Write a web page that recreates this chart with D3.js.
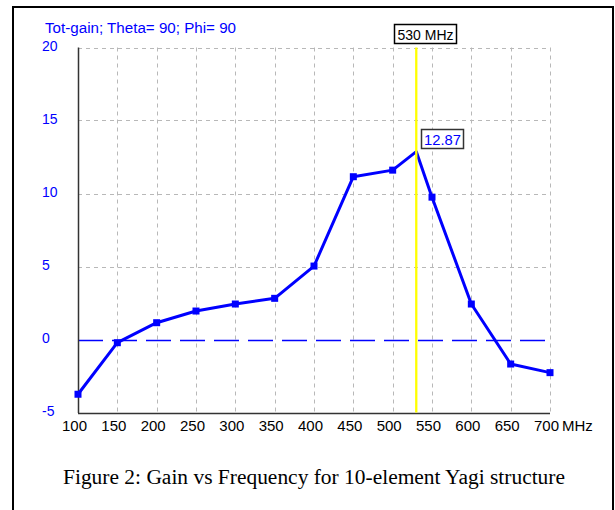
<!DOCTYPE html>
<html>
<head>
<meta charset="utf-8">
<script src="https://cdn.jsdelivr.net/npm/d3@7"></script>
<style>
  body { margin: 0; background: #fff; }
  svg { display: block; }
</style>
</head>
<body>
<svg width="615" height="510"></svg>
<script>
// sampled points (MHz / dB)
var frequencies = [100, 150, 200, 250, 300, 350, 400, 450, 500, 550, 600, 650, 700];
var gains = [-3.75, -0.22, 1.15, 1.95, 2.43, 2.82, 5.03, 11.15, 11.6, 9.75, 2.43, -1.68, -2.27];
// cursor read-out
var cursorFreq = 530;
var cursorGain = 12.87;
var xTicks = [100, 150, 200, 250, 300, 350, 400, 450, 500, 550, 600, 650, 700];
var yTicks = [-5, 0, 5, 10, 15, 20];
var titleText = 'Tot-gain; Theta= 90; Phi= 90';
var captionText = 'Figure 2: Gain vs Frequency for 10-element Yagi structure';

var svg = d3.select('svg');
var sans = 'Liberation Sans, Arial, sans-serif';

var x = d3.scaleLinear().domain([100, 700]).range([78, 550]);
var y = d3.scaleLinear().domain([-5, 20]).range([412.5, 47.5]);

// outer frame
svg.append('rect')
    .attr('x', 13).attr('y', 7)
    .attr('width', 600).attr('height', 520)
    .style('fill', 'none')
    .style('stroke', '#000')
    .style('stroke-width', 2);

// grid
svg.selectAll('.vgrid')
    .data(xTicks.slice(1))
    .enter().append('line')
    .attr('x1', function(d) { return Math.round(x(d)) + 0.5; })
    .attr('x2', function(d) { return Math.round(x(d)) + 0.5; })
    .attr('y1', y(20)).attr('y2', y(-5))
    .style('stroke', '#b8b8b8')
    .style('stroke-dasharray', '4,4');

svg.selectAll('.hgrid')
    .data(yTicks.filter(function(d) { return d > 0; }))
    .enter().append('line')
    .attr('x1', x(100)).attr('x2', x(700))
    .attr('y1', function(d) { return Math.round(y(d)) + 0.5; })
    .attr('y2', function(d) { return Math.round(y(d)) + 0.5; })
    .style('stroke', '#b8b8b8')
    .style('stroke-dasharray', '4,4');

// zero line
svg.append('line')
    .attr('x1', x(100)).attr('x2', x(700))
    .attr('y1', Math.round(y(0)) + 0.5).attr('y2', Math.round(y(0)) + 0.5)
    .style('stroke', '#0000ff')
    .style('stroke-width', 1.3)
    .style('stroke-dasharray', '25,9');

// axes lines
svg.append('line')
    .attr('x1', 78.5).attr('x2', 78.5)
    .attr('y1', y(20)).attr('y2', y(-5) + 0.5)
    .style('stroke', '#333')
    .style('stroke-width', 1.5);
svg.append('line')
    .attr('x1', 78).attr('x2', x(700))
    .attr('y1', Math.round(y(-5)) + 0.5).attr('y2', Math.round(y(-5)) + 0.5)
    .style('stroke', '#333')
    .style('stroke-width', 1.5);

// tick labels
svg.selectAll('.ylab')
    .data(yTicks)
    .enter().append('text')
    .attr('x', 42)
    .attr('y', function(d) { return y(d) + 3; })
    .style('font-family', sans)
    .style('font-size', '14px')
    .style('fill', '#0000ff')
    .text(function(d) { return d; });

svg.selectAll('.xlab')
    .data(xTicks)
    .enter().append('text')
    .attr('x', function(d) { return x(d) - 3.5; })
    .attr('y', 431)
    .attr('text-anchor', 'middle')
    .style('font-family', sans)
    .style('font-size', '15px')
    .style('fill', '#000')
    .text(function(d) { return d; });

svg.append('text')
    .attr('x', 562).attr('y', 431)
    .style('font-family', sans)
    .style('font-size', '15px')
    .style('fill', '#000')
    .text('MHz');

svg.append('text')
    .attr('x', 45).attr('y', 33)
    .attr('textLength', 191)
    .attr('lengthAdjust', 'spacingAndGlyphs')
    .style('font-family', sans)
    .style('font-size', '14px')
    .style('fill', '#0000ff')
    .text(titleText);

// curve, including the cursor point
var pts = frequencies.map(function(f, i) { return [f, gains[i]]; });
pts.push([cursorFreq, cursorGain]);
pts.sort(function(a, b) { return a[0] - b[0]; });

var line = d3.line()
    .x(function(d) { return x(d[0]); })
    .y(function(d) { return y(d[1]); });

svg.append('path')
    .datum(pts)
    .attr('d', line)
    .style('fill', 'none')
    .style('stroke', '#0000ff')
    .style('stroke-width', 3)
    .style('stroke-linejoin', 'round');

svg.selectAll('.mark')
    .data(frequencies)
    .enter().append('rect')
    .attr('x', function(d) { return x(d) - 3.5; })
    .attr('y', function(d, i) { return y(gains[i]) - 3.5; })
    .attr('width', 7).attr('height', 7)
    .style('fill', '#0000ff');

// cursor
svg.append('line')
    .attr('x1', x(cursorFreq)).attr('x2', x(cursorFreq))
    .attr('y1', y(20)).attr('y2', y(-5))
    .style('stroke', '#ffff00')
    .style('stroke-width', 2.3);

svg.append('rect')
    .attr('x', 394.5).attr('y', 24.5)
    .attr('width', 62).attr('height', 19)
    .style('fill', '#fff')
    .style('stroke', '#000')
    .style('stroke-width', 1.5);
svg.append('text')
    .attr('x', 425.5).attr('y', 39.5)
    .attr('text-anchor', 'middle')
    .attr('textLength', 56)
    .attr('lengthAdjust', 'spacingAndGlyphs')
    .style('font-family', sans)
    .style('font-size', '15px')
    .style('fill', '#000')
    .text(cursorFreq + ' MHz');

svg.append('rect')
    .attr('x', 421.5).attr('y', 129.5)
    .attr('width', 42).attr('height', 19)
    .style('fill', '#fff')
    .style('stroke', '#333')
    .style('stroke-width', 1.5);
svg.append('text')
    .attr('x', 442.5).attr('y', 144.5)
    .attr('text-anchor', 'middle')
    .attr('textLength', 37)
    .attr('lengthAdjust', 'spacingAndGlyphs')
    .style('font-family', sans)
    .style('font-size', '15px')
    .style('fill', '#0000ff')
    .text(cursorGain.toFixed(2));

// caption
svg.append('text')
    .attr('x', 63).attr('y', 484)
    .attr('textLength', 502)
    .attr('lengthAdjust', 'spacingAndGlyphs')
    .style('font-family', 'Liberation Serif, Times New Roman, serif')
    .style('font-size', '20px')
    .style('fill', '#000')
    .text(captionText);
</script>
</body>
</html>
